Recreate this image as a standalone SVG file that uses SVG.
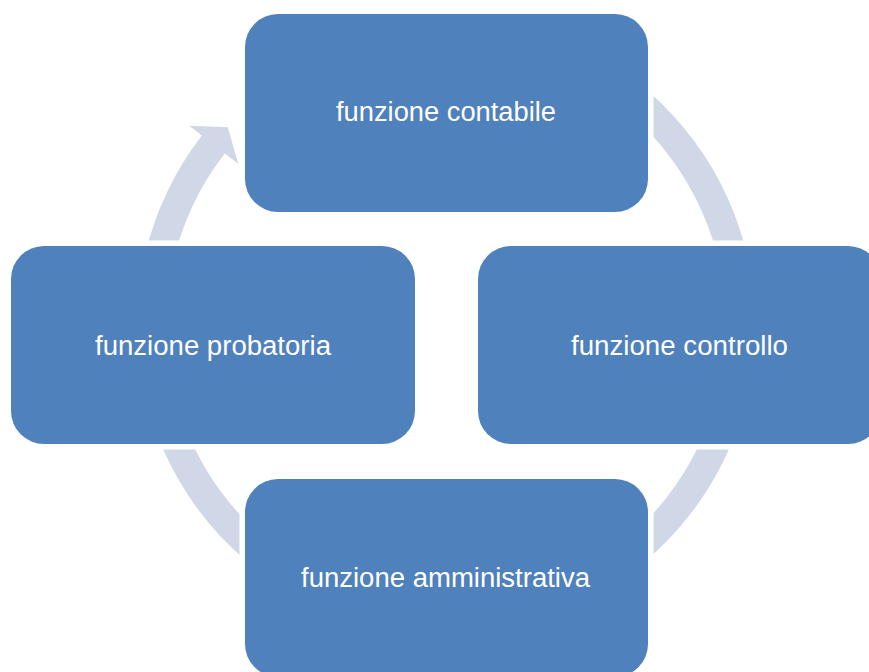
<svg xmlns="http://www.w3.org/2000/svg" width="869" height="672" viewBox="0 0 869 672">
<style>
.node rect{fill:#4F81BD;stroke:#FFFFFF;stroke-width:11;paint-order:stroke}
.node text{font-family:"Liberation Sans",Arial,sans-serif;font-size:27px;fill:#FFFFFF;text-anchor:middle}
.ring{fill:#D0D8E8;stroke:none}
</style>
<rect width="869" height="672" fill="#FFFFFF"/>
<g id="connectors">
<path class="ring" d="M 499.66 20.69 A 309 309 0 1 1 201.84 135.61 L 189.20 125.80 L 227.83 127.18 L 238.19 163.80 L 224.76 153.39 A 280 280 0 1 0 494.62 49.25 Z"/>
</g>
<g id="node-contabile" class="node">
<rect x="245" y="14" width="403" height="198" rx="33" ry="33"/>
<text x="446" y="121" textLength="220" lengthAdjust="spacingAndGlyphs">funzione contabile</text>
</g>
<g id="node-controllo" class="node">
<rect x="478" y="246" width="403" height="198" rx="33" ry="33"/>
<text x="679.5" y="355" textLength="217" lengthAdjust="spacingAndGlyphs">funzione controllo</text>
</g>
<g id="node-amministrativa" class="node">
<rect x="245" y="479" width="403" height="198" rx="33" ry="33"/>
<text x="445.5" y="587" textLength="289" lengthAdjust="spacingAndGlyphs">funzione amministrativa</text>
</g>
<g id="node-probatoria" class="node">
<rect x="11" y="246" width="404" height="198" rx="33" ry="33"/>
<text x="213" y="355" textLength="236" lengthAdjust="spacingAndGlyphs">funzione probatoria</text>
</g>
</svg>
